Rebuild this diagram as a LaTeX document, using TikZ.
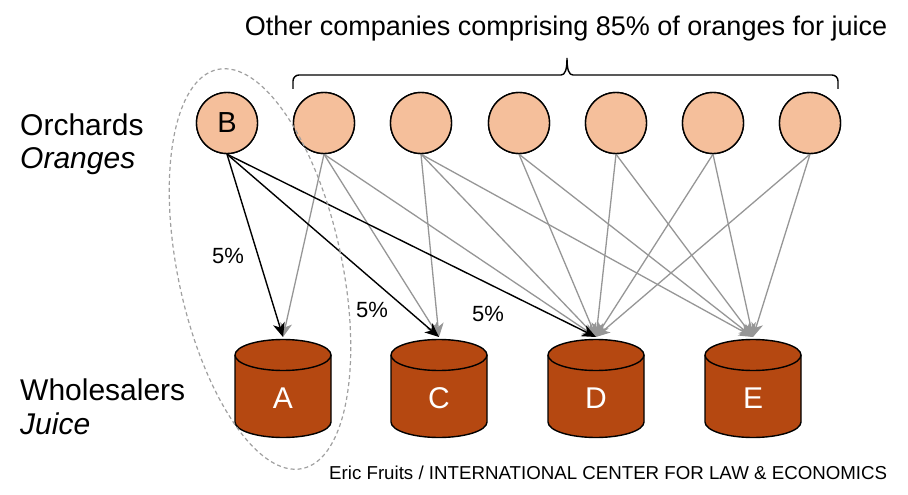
\documentclass[tikz,border=0pt]{standalone}
\usepackage{fontspec}
\setmainfont{Liberation Sans}
\usetikzlibrary{arrows.meta}
\definecolor{peach}{RGB}{245,191,155}
\definecolor{rust}{RGB}{181,72,17}
\definecolor{lgray}{RGB}{150,150,150}
\definecolor{dgray}{RGB}{160,160,160}
\begin{document}
\begin{tikzpicture}[x=1pt,y=-1pt,
  orch/.style={circle, draw=black, line width=1.4pt, fill=peach, minimum size=61pt, inner sep=0pt, font=\fontsize{29}{31}\selectfont},
  blk/.style={draw=black, line width=1.4pt, -{Stealth[length=14pt,width=12pt,inset=4pt]}},
  gry/.style={draw=lgray, line width=1.3pt, -{Stealth[length=14pt,width=12pt,inset=4pt]}},
  lbl/.style={font=\fontsize{30}{32}\selectfont, anchor=base west, inner sep=0pt},
  pct/.style={font=\fontsize{22}{24}\selectfont, inner sep=0pt},
  cylbody/.style={fill=rust, draw=black, line width=1.4pt},
  cyltext/.style={text=white, font=\fontsize{30}{32}\selectfont, inner sep=0pt},
  brace/.style={draw=black, line width=1.4pt},
  lasso/.style={draw=dgray, line width=1.2pt, dash pattern=on 4pt off 3pt}
]
\useasboundingbox (0,0) rectangle (908,495);

% title and brace
\node[font=\fontsize{27}{30}\selectfont, anchor=base, inner sep=0pt] (title) at (566,36) {Other companies comprising 85\% of oranges for juice};
\draw[brace, rounded corners=6pt] (293,89) |- (561,75);
\draw[brace] (561,75) .. controls (565,75) and (567,70) .. (567,58)
             .. controls (567,70) and (569,75) .. (573,75);
\draw[brace, rounded corners=6pt] (573,75) -| (838,89);

% row labels
\node[lbl] (orchards) at (20,135) {Orchards};
\node[lbl] (oranges) at (20,168) {\itshape Oranges};
\node[lbl] (wholesalers) at (20,400) {Wholesalers};
\node[lbl] (juice) at (20,434) {\itshape Juice};

% wholesalers (cylinders)
\foreach \cx/\nm in {283/A,439/C,596/D,753/E}{
  \draw[cylbody] (\cx-48,355) -- (\cx-48,422)
     arc[start angle=180, end angle=360, x radius=48pt, y radius=15.5pt]
     -- (\cx+48,355);
  \draw[cylbody] (\cx,355) ellipse[x radius=48pt, y radius=15.5pt];
  \node[cyltext] (\nm) at (\cx,398) {\nm};
  \coordinate (top\nm) at (\cx,337);
}

% orchards (circles)
\node[orch] (B) at (227,123) {B};
\foreach \i/\cx in {2/324,3/421,4/519,5/616,6/713,7/810}{
  \node[orch] (o\i) at (\cx,123) {};
}

% gray connectors
\foreach \s/\t in {o2/A,o2/C,o2/D,o3/C,o3/D,o3/E,o4/D,o4/E,o5/D,o5/E,o6/D,o6/E,o7/D,o7/E}{
  \draw[gry] (\s.south) -- (top\t);
}
% black connectors from B
\draw[blk] (B.south) -- (topA);
\draw[blk] (B.south) -- (topC);
\draw[blk] (B.south) -- (topD);

% redraw circles on top of line starts
\node[orch] at (B) {B};
\foreach \i in {2,...,7}{
  \node[orch] at (o\i) {};
}

% percentage labels
\node[pct] (p1) at (228,256) {5\%};
\node[pct] (p2) at (372,310) {5\%};
\node[pct] (p3) at (488,314) {5\%};

% dashed lasso round B and A
\draw[lasso, rotate around={12:(260,269)}] (260,269) ellipse[x radius=82pt, y radius=204pt];

% footer
\node[font=\fontsize{18.7}{20}\selectfont, anchor=base west, inner sep=0pt] (footer) at (329,479) {Eric Fruits / INTERNATIONAL CENTER FOR LAW \& ECONOMICS};
\end{tikzpicture}
\end{document}
